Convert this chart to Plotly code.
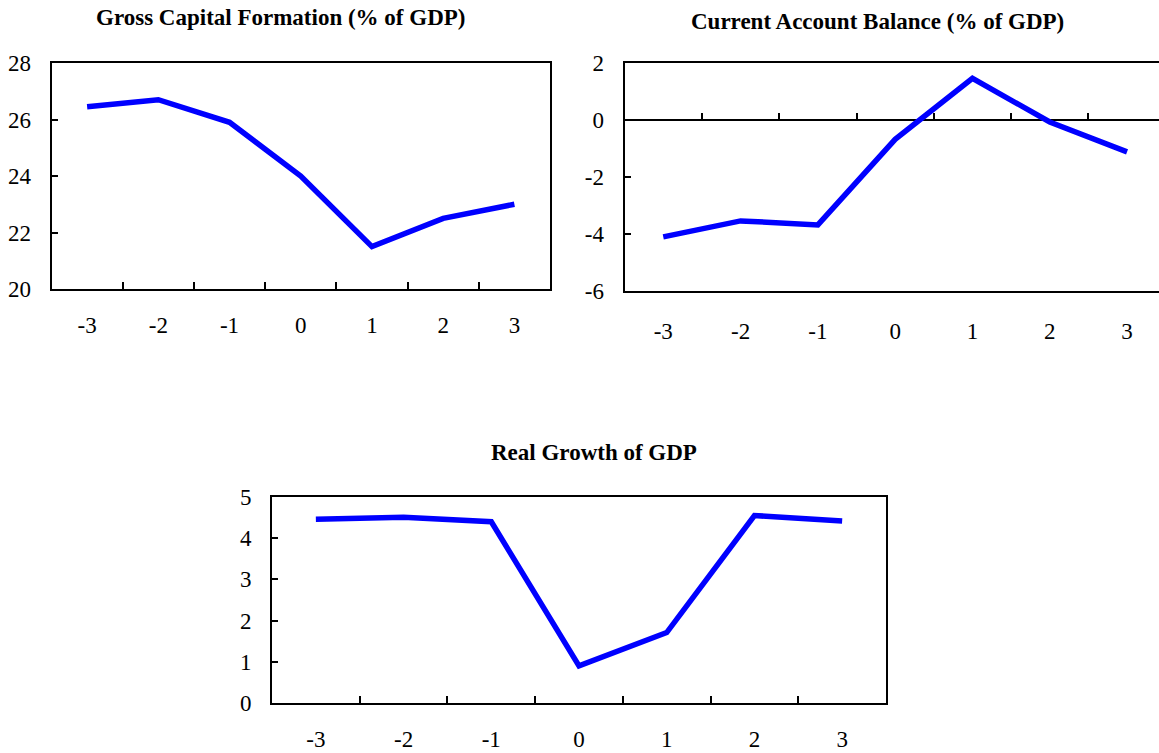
import plotly.graph_objects as go

W, H = 1159, 753

periods = ["-3", "-2", "-1", "0", "1", "2", "3"]
gcf_values = [26.45, 26.7, 25.9, 24.0, 21.5, 22.5, 23.0]
cab_values = [-4.1, -3.54, -3.68, -0.68, 1.46, -0.07, -1.12]
gdp_values = [4.46, 4.51, 4.40, 0.90, 1.71, 4.55, 4.42]

cab_tick_values = [-6, -4, -2, 0, 2]
cab_tick_labels = ["-6", "-4", "-2", "0", "2"]

titles = ["Gross Capital Formation (% of GDP)",
          "Current Account Balance (% of GDP)",
          "Real Growth of GDP"]

FONT = "Liberation Serif"
BLUE = "#0000FF"

def px_x(p):
    return p / W

def px_y(p):
    return 1 - p / H

fig = go.Figure()

line = dict(color=BLUE, width=5.5)
fig.add_trace(go.Scatter(x=periods, y=gcf_values, mode="lines", line=line, xaxis="x", yaxis="y", showlegend=False, hoverinfo="skip"))
fig.add_trace(go.Scatter(x=periods, y=cab_values, mode="lines", line=line, xaxis="x2", yaxis="y2", showlegend=False, hoverinfo="skip"))
fig.add_trace(go.Scatter(x=periods, y=gdp_values, mode="lines", line=line, xaxis="x3", yaxis="y3", showlegend=False, hoverinfo="skip"))
# empty helper trace so the zero-line tick axis is drawn
fig.add_trace(go.Scatter(x=[], y=[], mode="lines", xaxis="x4", yaxis="y2", showlegend=False, hoverinfo="skip"))

tickfont = dict(family=FONT, size=23, color="black")

def xaxis_cfg(domain, anchor, standoff, rng=None, mirror=True, ticks="inside"):
    d = dict(domain=domain, anchor=anchor, type="category", tickson="boundaries",
             ticks=ticks, ticklen=7, tickwidth=1.5, tickcolor="black",
             showline=True, linecolor="black", linewidth=2, mirror=mirror,
             showgrid=False, zeroline=False, tickfont=tickfont, automargin=False,
             ticklabelstandoff=standoff, fixedrange=True)
    d["range"] = rng if rng is not None else [-0.5, len(periods) - 0.5]
    return d

def yaxis_cfg(domain, anchor, rng, dtick, mirror=True, zeroline=False):
    return dict(domain=domain, anchor=anchor, range=rng, dtick=dtick,
                ticks="inside", ticklen=6, tickwidth=1.5, tickcolor="black",
                showline=True, linecolor="black", linewidth=2, mirror=mirror,
                showgrid=False, zeroline=zeroline, zerolinecolor="black", zerolinewidth=1.5,
                tickfont=tickfont, ticklabelstandoff=14, fixedrange=True, automargin=False)

# Chart 1
d1x = [px_x(51.5), px_x(550)]
d1y = [px_y(289), px_y(63)]
# Chart 2 (extends past right edge)
left2 = 624.6
catw2 = 77.3
d2x = [px_x(left2), 1.0]
r2 = [-0.5, -0.5 + (W - left2) / catw2]
d2y = [px_y(291), px_y(63)]
cab_range = [-6, 2]
# Chart 3
d3x = [px_x(272), px_x(886)]
d3y = [px_y(703), px_y(497)]

zero_pos = d2y[0] + (d2y[1] - d2y[0]) * (0 - cab_range[0]) / (cab_range[1] - cab_range[0])

y2 = yaxis_cfg(d2y, "x2", cab_range, 2, mirror=False, zeroline=True)
y2.update(tickmode="array", tickvals=cab_tick_values, ticktext=cab_tick_labels)
y2.pop("dtick")

fig.update_layout(
    width=W, height=H,
    margin=dict(l=0, r=0, t=0, b=0, pad=0, autoexpand=False),
    paper_bgcolor="white", plot_bgcolor="white",
    xaxis=xaxis_cfg(d1x, "y", 14),
    yaxis=yaxis_cfg(d1y, "x", [20, 28], 2),
    xaxis2=dict(xaxis_cfg(d2x, "y2", 18, rng=r2, mirror=True, ticks=""), tickson="labels"),
    yaxis2=y2,
    xaxis4=dict(overlaying="x2", anchor="free", position=zero_pos, range=r2,
                tickvals=[i + 0.5 for i in range(len(periods) - 1)],
                ticks="inside", ticklen=7, tickwidth=1.5, tickcolor="black",
                showticklabels=False, showline=False, showgrid=False, zeroline=False,
                fixedrange=True, automargin=False),
    xaxis3=xaxis_cfg(d3x, "y3", 14),
    yaxis3=yaxis_cfg(d3y, "x3", [0, 5], 1),
)

titlefont = dict(family=FONT, size=23, color="black")
title_pos = [(280, 18), (877, 22), (594, 452)]
for t, (cx, cy) in zip(titles, title_pos):
    fig.add_annotation(text="<b>" + t + "</b>", x=px_x(cx), y=px_y(cy), xref="paper", yref="paper",
                       xanchor="center", yanchor="middle", showarrow=False, font=titlefont)

fig.write_html("out.html", config={"displayModeBar": False},
               post_script="document.body.style.margin='0';document.body.style.overflow='hidden';")
